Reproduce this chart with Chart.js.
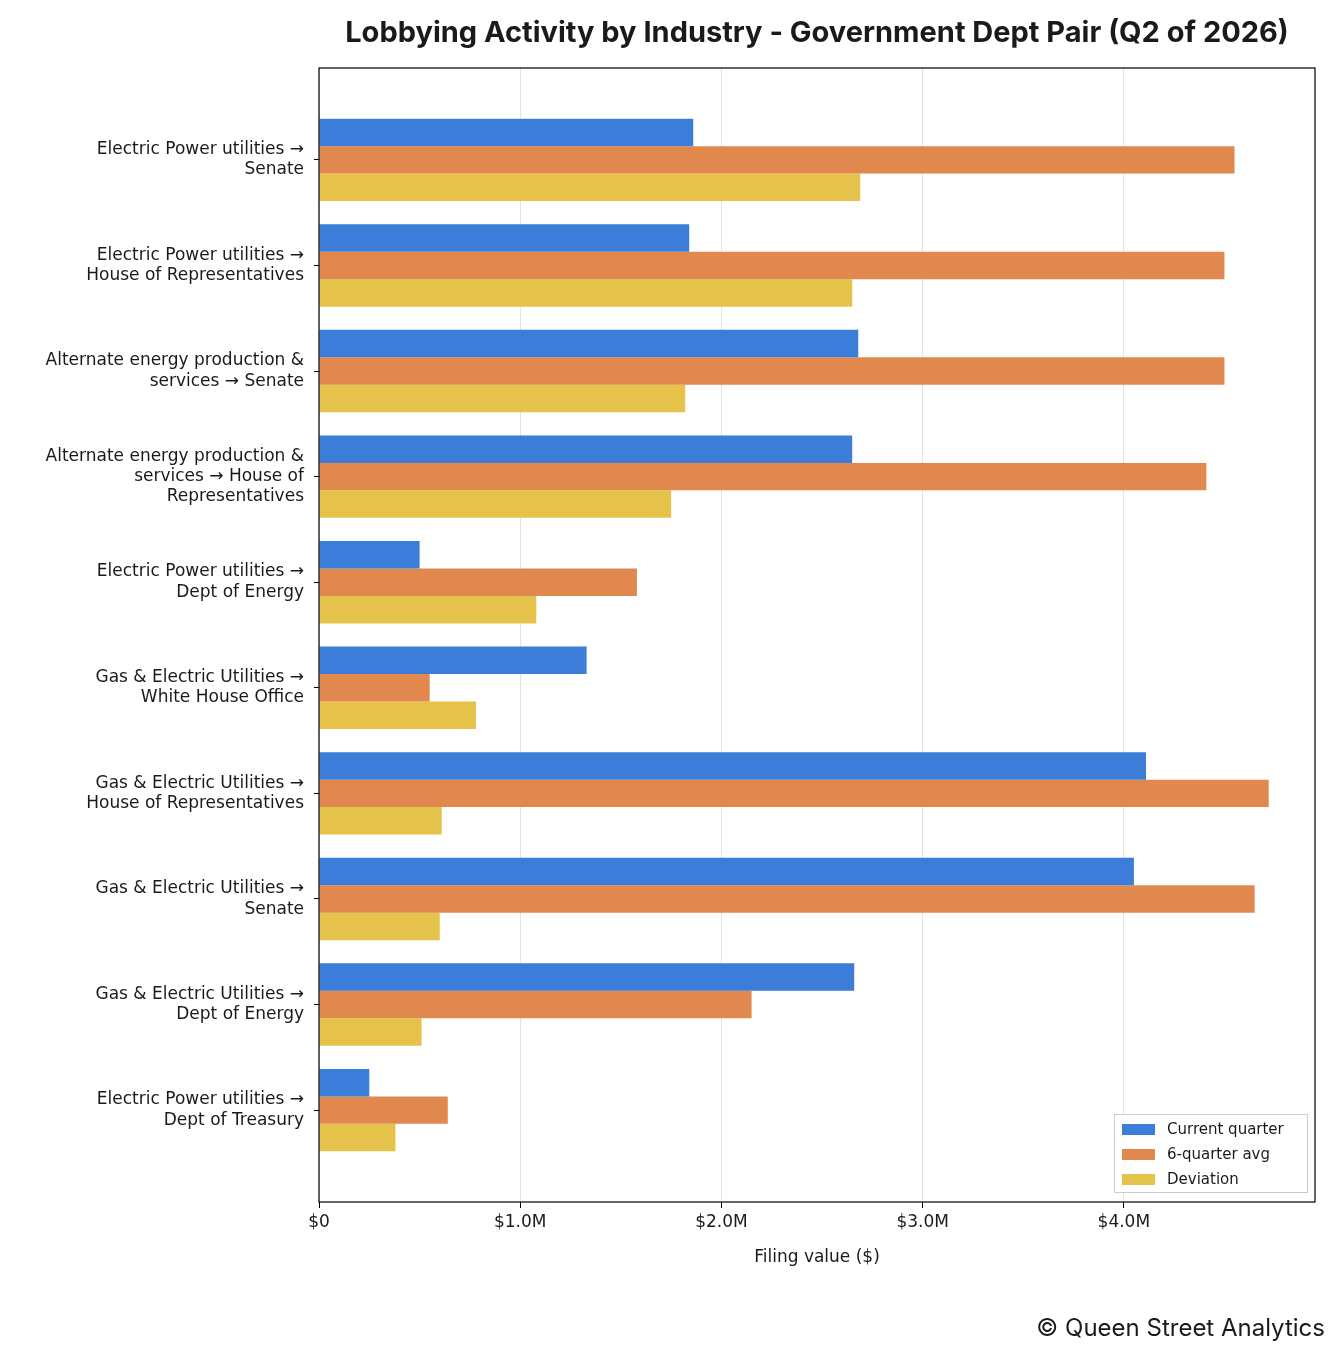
<!DOCTYPE html>
<html>
<head>
<meta charset="utf-8">
<script src="https://cdn.jsdelivr.net/npm/chart.js@4"></script>
<style>
  html, body { margin: 0; padding: 0; background: #fff; }
  #wrap { width: 1341px; height: 1360px; }
</style>
</head>
<body>
<div id="wrap"><canvas id="c" width="1341" height="1360"></canvas></div>
<script>
// 类别（行标签，多行）
const categories = [
  ['Electric Power utilities →', 'Senate'],
  ['Electric Power utilities →', 'House of Representatives'],
  ['Alternate energy production &', 'services → Senate'],
  ['Alternate energy production &', 'services → House of', 'Representatives'],
  ['Electric Power utilities →', 'Dept of Energy'],
  ['Gas & Electric Utilities →', 'White House Office'],
  ['Gas & Electric Utilities →', 'House of Representatives'],
  ['Gas & Electric Utilities →', 'Senate'],
  ['Gas & Electric Utilities →', 'Dept of Energy'],
  ['Electric Power utilities →', 'Dept of Treasury']
];

// 数值（单位：百万美元）
const currentQuarter = [1.86, 1.84, 2.68, 2.65, 0.50, 1.33, 4.11, 4.05, 2.66, 0.25];
const sixQuarterAvg  = [4.55, 4.50, 4.50, 4.41, 1.58, 0.55, 4.72, 4.65, 2.15, 0.64];
const deviation      = [2.69, 2.65, 1.82, 1.75, 1.08, 0.78, 0.61, 0.60, 0.51, 0.38];

const xTicks = [0, 1, 2, 3, 4];
const xTickLabels = ['$0', '$1.0M', '$2.0M', '$3.0M', '$4.0M'];

const seriesNames = ['Current quarter', '6-quarter avg', 'Deviation'];
const seriesColors = ['#3b7dd8', '#e0884e', '#e5c34a'];

const toPoints = arr => arr.map((v, i) => ({ x: v, y: i }));

// 标题、边框、图例、版权
const decor = {
  id: 'decor',
  afterDraw(chart) {
    const { ctx, chartArea: a } = chart;
    ctx.save();
    ctx.strokeStyle = '#000';
    ctx.lineWidth = 1.2;
    ctx.strokeRect(a.left, a.top, a.right - a.left, a.bottom - a.top);

    ctx.fillStyle = '#1a1a1a';
    ctx.font = 'bold 29px Inter, "DejaVu Sans", sans-serif';
    ctx.textAlign = 'center';
    ctx.textBaseline = 'middle';
    ctx.fillText('Lobbying Activity by Industry - Government Dept Pair (Q2 of 2026)', (a.left + a.right) / 2, 33);

    ctx.font = '24px Inter, "DejaVu Sans", sans-serif';
    ctx.textAlign = 'right';
    ctx.fillText('© Queen Street Analytics', 1325, 1329);

    // 图例（右下角）
    const lw = 193, lh = 78;
    const lx = a.right - 8 - lw, ly = a.bottom - 10 - lh;
    ctx.fillStyle = 'rgba(255,255,255,0.85)';
    ctx.fillRect(lx, ly, lw, lh);
    ctx.strokeStyle = '#cccccc';
    ctx.lineWidth = 1;
    ctx.strokeRect(lx + 0.5, ly + 0.5, lw, lh);
    ctx.font = '15px "DejaVu Sans", sans-serif';
    ctx.textAlign = 'left';
    chart.data.datasets.forEach((ds, i) => {
      const yy = ly + 15 + i * 25;
      ctx.fillStyle = ds.backgroundColor;
      ctx.fillRect(lx + 8, yy - 5, 33, 11);
      ctx.fillStyle = '#1a1a1a';
      ctx.fillText(ds.label, lx + 53, yy + 1);
    });
    ctx.restore();
  }
};

new Chart(document.getElementById('c'), {
  type: 'bar',
  data: {
    datasets: [currentQuarter, sixQuarterAvg, deviation].map((arr, i) => ({
      label: seriesNames[i],
      data: toPoints(arr),
      backgroundColor: seriesColors[i],
      borderWidth: 0,
      categoryPercentage: 0.78,
      barPercentage: 1.0
    }))
  },
  options: {
    indexAxis: 'y',
    responsive: false,
    animation: false,
    devicePixelRatio: 1,
    layout: { padding: { top: 68, right: 26, bottom: 88, left: 0 } },
    plugins: { legend: { display: false }, title: { display: false }, tooltip: { enabled: false } },
    scales: {
      x: {
        type: 'linear',
        min: 0,
        max: 4.95,
        afterBuildTicks: s => { s.ticks = xTicks.map(v => ({ value: v })); },
        afterFit: s => { s.height = 70; },
        ticks: {
          callback: (v) => xTickLabels[xTicks.indexOf(v)],
          color: '#1a1a1a',
          font: { family: '"DejaVu Sans", sans-serif', size: 17 },
          padding: 4,
          maxRotation: 0
        },
        grid: { color: '#e3e3e3', lineWidth: 1, drawTicks: true, tickLength: 6, tickColor: '#000' },
        border: { display: false },
        title: {
          display: true,
          text: 'Filing value ($)',
          color: '#1a1a1a',
          font: { family: '"DejaVu Sans", sans-serif', size: 17 },
          padding: { top: 2 }
        }
      },
      y: {
        type: 'linear',
        reverse: true,
        offset: false,
        min: -0.87,
        max: 9.87,
        afterBuildTicks: s => { s.ticks = categories.map((_, i) => ({ value: i })); },
        afterFit: s => { s.width = 319; },
        ticks: {
          callback: (v) => categories[v],
          color: '#1a1a1a',
          font: { family: '"DejaVu Sans", sans-serif', size: 17 },
          padding: 10
        },
        grid: { display: true, offset: false, drawOnChartArea: false, tickLength: 5, tickColor: '#000' },
        border: { display: false }
      }
    }
  },
  plugins: [decor]
});
</script>
</body>
</html>
